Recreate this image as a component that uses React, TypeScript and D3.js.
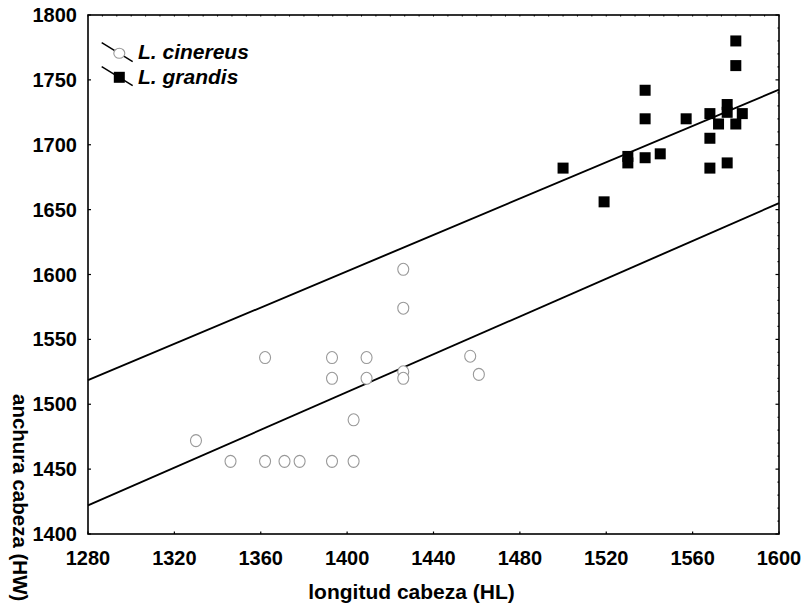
import React from "react";
import * as d3 from "d3";

const xTicks = [1280, 1320, 1360, 1400, 1440, 1480, 1520, 1560, 1600];
const yTicks = [1400, 1450, 1500, 1550, 1600, 1650, 1700, 1750, 1800];

const grandisHL = [1500, 1519, 1530, 1530, 1538, 1538, 1538, 1545, 1557, 1568, 1568, 1568, 1572, 1576, 1576, 1576, 1580, 1580, 1580, 1583];
const grandisHW = [1682, 1656, 1691, 1686, 1742, 1720, 1690, 1693, 1720, 1724, 1705, 1682, 1716, 1731, 1725, 1686, 1780, 1761, 1716, 1724];

const cinereusHL = [1426, 1426, 1362, 1393, 1409, 1393, 1409, 1426, 1426, 1457, 1461, 1403, 1330, 1346, 1362, 1371, 1378, 1393, 1403];
const cinereusHW = [1604, 1574, 1536, 1536, 1536, 1520, 1520, 1525, 1520, 1537, 1523, 1488, 1472, 1456, 1456, 1456, 1456, 1456, 1456];

const lineHL = [1280, 1600];
const upperHW = [1518.5, 1742.5];
const lowerHW = [1422, 1655];

const legendNames = ["L. cinereus", "L. grandis"];

const W = 804;
const H = 609;
const m = { left: 88, right: 779, top: 15, bottom: 534 };
const font = "'Liberation Sans', Arial, Helvetica, sans-serif";

export default function App() {
  const x = d3.scaleLinear().domain([1280, 1600]).range([m.left, m.right]);
  const y = d3.scaleLinear().domain([1400, 1800]).range([m.bottom, m.top]);
  const line = d3
    .line<[number, number]>()
    .x((d) => x(d[0]))
    .y((d) => y(d[1]));

  const upper: [number, number][] = lineHL.map((v, i) => [v, upperHW[i]]);
  const lower: [number, number][] = lineHL.map((v, i) => [v, lowerHW[i]]);

  const rightMinor = d3.range(1400, 1800.01, 10);
  const topMinor = d3.range(1280, 1600.01, 40 / 6);

  return (
    <svg
      width={W}
      height={H}
      style={{ position: "absolute", left: 0, top: 0, background: "#fff" }}
    >
      <rect x={0} y={0} width={W} height={H} fill="#fff" />
      {/* regression lines */}
      <path d={line(upper) || ""} fill="none" stroke="#000" strokeWidth={1.9} />
      <path d={line(lower) || ""} fill="none" stroke="#000" strokeWidth={1.9} />

      {/* cinereus points */}
      {cinereusHL.map((v, i) => (
        <ellipse
          key={"c" + i}
          cx={x(v)}
          cy={y(cinereusHW[i])}
          rx={5.5}
          ry={6}
          fill="#fff"
          stroke="#999"
          strokeWidth={1.1}
        />
      ))}
      {/* grandis points */}
      {grandisHL.map((v, i) => (
        <rect
          key={"g" + i}
          x={x(v) - 5.5}
          y={y(grandisHW[i]) - 5.5}
          width={11}
          height={11}
          fill="#000"
        />
      ))}

      {/* frame */}
      <rect
        x={m.left}
        y={m.top}
        width={m.right - m.left}
        height={m.bottom - m.top}
        fill="none"
        stroke="#000"
        strokeWidth={1.6}
      />
      {/* left ticks */}
      {yTicks.map((t) => (
        <line key={"yl" + t} x1={m.left} x2={m.left + 3} y1={y(t)} y2={y(t)} stroke="#000" strokeWidth={1.2} />
      ))}
      {/* right ticks */}
      {rightMinor.map((t) => (
        <line
          key={"yr" + t}
          x1={m.right}
          x2={m.right - (Math.round(t) % 50 === 0 ? 3.5 : 1.5)}
          y1={y(t)}
          y2={y(t)}
          stroke="#000"
          strokeWidth={1.2}
        />
      ))}
      {/* bottom ticks */}
      {xTicks.map((t) => (
        <line key={"xb" + t} x1={x(t)} x2={x(t)} y1={m.bottom} y2={m.bottom - 2.5} stroke="#000" strokeWidth={1.2} />
      ))}
      {/* top ticks */}
      {topMinor.map((t, i) => (
        <line key={"xt" + i} x1={x(t)} x2={x(t)} y1={m.top} y2={m.top + 1.5} stroke="#000" strokeWidth={1} />
      ))}

      {/* y tick labels */}
      {yTicks.map((t) => (
        <text
          key={"ylab" + t}
          x={77}
          y={y(t) + 7}
          textAnchor="end"
          fontFamily={font}
          fontWeight="bold"
          fontSize={20}
          fill="#000"
        >
          {t}
        </text>
      ))}
      {/* x tick labels */}
      {xTicks.map((t) => (
        <text
          key={"xlab" + t}
          x={x(t)}
          y={565}
          textAnchor="middle"
          fontFamily={font}
          fontWeight="bold"
          fontSize={20}
          fill="#000"
        >
          {t}
        </text>
      ))}

      {/* axis titles */}
      <text
        x={411.5}
        y={599}
        textAnchor="middle"
        fontFamily={font}
        fontWeight="bold"
        fontSize={21}
        fill="#000"
      >
        longitud cabeza (HL)
      </text>
      <text
        transform="translate(13,394) rotate(90)"
        textAnchor="start"
        fontFamily={font}
        fontWeight="bold"
        fontSize={20.5}
        fill="#000"
      >
        anchura cabeza (HW)
      </text>

      {/* legend */}
      <line x1={101.7} y1={42.7} x2={132.7} y2={61.7} stroke="#000" strokeWidth={1.5} />
      <ellipse cx={119.3} cy={53.3} rx={5.5} ry={5} fill="#fff" stroke="#999" strokeWidth={1.1} />
      <text x={138} y={58.5} fontFamily={font} fontWeight="bold" fontStyle="italic" fontSize={21} fill="#000">
        {legendNames[0]}
      </text>
      <line x1={101.7} y1={66.7} x2={132.7} y2={85.7} stroke="#000" strokeWidth={1.5} />
      <rect x={113.8} y={71.8} width={11} height={11} fill="#000" />
      <text x={138} y={84} fontFamily={font} fontWeight="bold" fontStyle="italic" fontSize={21} fill="#000">
        {legendNames[1]}
      </text>
    </svg>
  );
}
